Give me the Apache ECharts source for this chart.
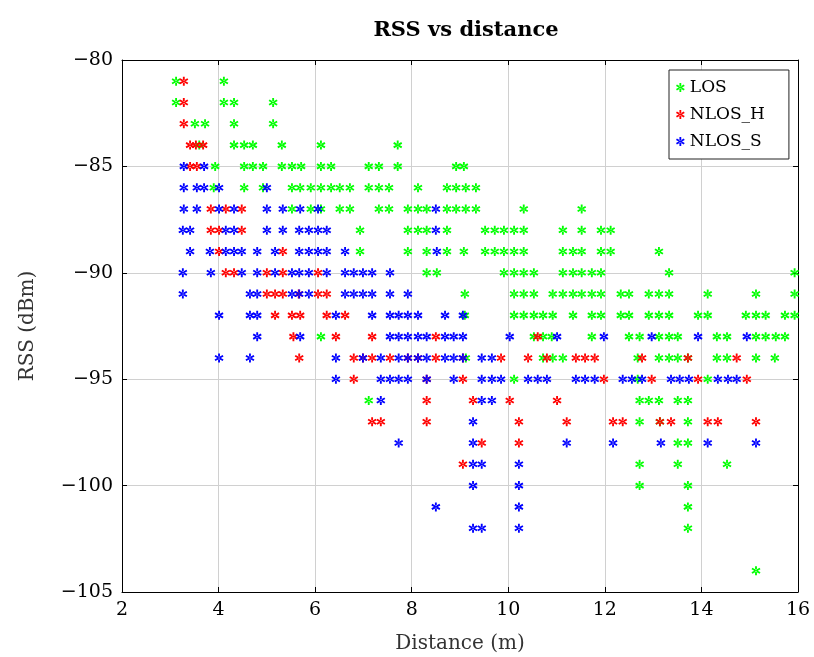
<!DOCTYPE html>
<html>
<head>
<meta charset="utf-8">
<script src="https://cdn.jsdelivr.net/npm/echarts@6/dist/echarts.min.js"></script>
<style>html,body{margin:0;padding:0;background:#fff}#chart{width:814px;height:657px}</style>
</head>
<body>
<div id="chart"></div>
<script>
// Axis ticks
const xTicks = [2, 4, 6, 8, 10, 12, 14, 16];
const yTicks = [-105, -100, -95, -90, -85, -80];

// Each row: [RSS (dBm), [distances (m)]]
const losRows = [
  [-81, [3.12, 4.11]],
  [-82, [3.12, 4.11, 4.32, 5.13]],
  [-83, [3.51, 3.72, 4.32, 5.13]],
  [-84, [3.6, 4.32, 4.53, 4.71, 5.31, 6.12, 7.71]],
  [-85, [3.93, 4.53, 4.71, 4.92, 5.31, 5.52, 5.71, 6.12, 6.33, 7.11, 7.32, 7.71, 8.92, 9.08]],
  [-86, [3.90, 4.53, 4.92, 5.52, 5.69, 5.91, 6.12, 6.33, 6.51, 6.72, 7.11, 7.32, 7.53, 8.13, 8.73, 8.92, 9.12, 9.33]],
  [-87, [5.52, 5.91, 6.12, 6.51, 6.72, 7.32, 7.53, 7.92, 8.13, 8.31, 8.73, 8.92, 9.12, 9.33, 10.32, 11.52]],
  [-88, [6.93, 7.92, 8.13, 8.31, 8.73, 9.52, 9.72, 9.91, 10.12, 10.32, 11.13, 11.52, 11.92, 12.12]],
  [-89, [6.93, 7.92, 8.31, 8.73, 9.08, 9.52, 9.72, 9.91, 10.12, 10.32, 11.13, 11.34, 11.52, 11.92, 12.12, 13.12]],
  [-90, [8.31, 8.52, 9.91, 10.12, 10.32, 10.53, 11.13, 11.34, 11.52, 11.73, 11.92, 13.33, 15.93]],
  [-91, [9.1, 10.12, 10.32, 10.53, 10.92, 11.13, 11.34, 11.52, 11.73, 11.92, 12.33, 12.5, 12.91, 13.12, 13.33, 14.13, 15.13, 15.93]],
  [-92, [9.1, 10.12, 10.32, 10.53, 10.72, 10.92, 11.34, 11.73, 11.92, 12.33, 12.5, 12.91, 13.12, 13.33, 13.93, 14.13, 14.92, 15.13, 15.33, 15.73, 15.93]],
  [-93, [6.12, 10.53, 10.72, 10.9, 11.73, 12.5, 12.72, 13.12, 13.33, 13.51, 14.32, 14.53, 15.13, 15.33, 15.54, 15.73]],
  [-94, [9.12, 10.72, 10.92, 11.13, 12.68, 13.12, 13.33, 13.51, 13.72, 14.32, 14.53, 15.13, 15.52]],
  [-95, [10.12, 12.68, 14.13]],
  [-96, [7.11, 12.72, 12.91, 13.12, 13.51, 13.72]],
  [-97, [12.72, 13.14, 13.72]],
  [-98, [13.51, 13.72]],
  [-99, [12.72, 13.51, 14.53]],
  [-100, [12.72, 13.72]],
  [-101, [13.72]],
  [-102, [13.72]],
  [-104, [15.13]]
];

const nlosHRows = [
  [-81, [3.28]],
  [-82, [3.28]],
  [-83, [3.28]],
  [-84, [3.41, 3.53, 3.68]],
  [-85, [3.41, 3.55]],
  [-87, [3.84, 4.15, 4.48]],
  [-88, [3.84, 4.01, 4.48]],
  [-89, [4.01, 5.33]],
  [-90, [4.15, 4.32, 5.00, 5.33, 6.06]],
  [-91, [5.00, 5.17, 5.33, 5.66, 6.06, 6.24]],
  [-92, [5.17, 5.52, 5.69, 6.24, 6.62]],
  [-93, [5.55, 6.43, 7.18, 8.50, 10.61]],
  [-94, [5.67, 6.80, 6.99, 7.18, 7.55, 7.92, 8.13, 8.50, 9.06, 9.85, 10.41, 10.80, 11.40, 11.59, 11.79, 12.77, 13.72, 14.73]],
  [-95, [6.80, 8.31, 9.06, 11.98, 12.97, 13.93, 14.94]],
  [-96, [8.31, 9.27, 10.03, 11.01]],
  [-97, [7.18, 7.36, 8.31, 10.22, 11.21, 12.17, 12.37, 13.14, 13.37, 14.13, 14.34, 15.13]],
  [-98, [9.45, 10.22]],
  [-99, [9.06]]
];

const nlosSRows = [
  [-85, [3.28, 3.70]],
  [-86, [3.28, 3.55, 3.70, 4.01, 5.00]],
  [-87, [3.28, 3.55, 4.01, 4.32, 5.00, 5.33, 5.69, 6.06, 8.50]],
  [-88, [3.26, 3.41, 4.15, 4.32, 5.00, 5.33, 5.67, 5.87, 6.06, 6.24, 8.50]],
  [-89, [3.41, 3.82, 4.15, 4.32, 4.48, 4.80, 5.17, 5.67, 5.87, 6.06, 6.24, 6.62, 8.52]],
  [-90, [3.26, 3.84, 4.48, 4.80, 5.17, 5.52, 5.67, 5.87, 6.24, 6.62, 6.80, 6.99, 7.18, 7.55]],
  [-91, [3.26, 4.65, 4.80, 5.52, 5.67, 5.87, 6.62, 6.80, 6.99, 7.18, 7.55, 7.92]],
  [-92, [4.01, 4.65, 4.80, 6.43, 7.18, 7.55, 7.73, 7.92, 8.13, 8.69, 9.06]],
  [-93, [4.80, 5.69, 7.55, 7.73, 7.92, 8.13, 8.31, 8.69, 8.87, 9.06, 10.03, 11.01, 11.98, 12.97, 13.93, 14.94]],
  [-94, [4.01, 4.65, 6.43, 6.99, 7.36, 7.73, 7.92, 8.13, 8.31, 8.69, 8.87, 9.06, 9.45, 9.66]],
  [-95, [6.43, 7.36, 7.55, 7.73, 7.92, 8.31, 8.87, 9.45, 9.66, 9.85, 10.41, 10.61, 10.80, 11.40, 11.59, 11.79, 12.37, 12.56, 12.77, 13.37, 13.55, 13.74, 14.34, 14.55, 14.73]],
  [-96, [7.36, 9.45, 9.66]],
  [-97, [9.27]],
  [-98, [7.73, 9.27, 11.21, 12.17, 13.16, 14.13, 15.13]],
  [-99, [9.27, 9.45, 10.22]],
  [-100, [9.27, 10.22]],
  [-101, [8.50, 10.22]],
  [-102, [9.27, 9.45, 10.22]]
];

const seriesNames = ['LOS', 'NLOS_H', 'NLOS_S'];
const seriesColors = ['#00ff00', '#ff0000', '#0000ff'];

function flatten(rows) {
  const out = [];
  rows.forEach(([y, xs]) => xs.forEach(x => out.push([x, y])));
  return out;
}

// six-spoke asterisk built from three filled bars
const ASTER = 'path://M-0.2,-1L0.2,-1L0.2,1L-0.2,1Z' +
  'M0.766,0.673L0.966,0.327L-0.766,-0.673L-0.966,-0.327Z' +
  'M0.966,-0.327L0.766,-0.673L-0.966,0.327L-0.766,0.673Z';

const FONT = 'DejaVu Serif';
const minus = v => String(v).replace('-', '\u2212');

const chart = echarts.init(document.getElementById('chart'), null, {renderer: 'canvas'});
const allRows = [losRows, nlosHRows, nlosSRows];

const axisCommon = {
  axisLine: {show: true, onZero: false, lineStyle: {color: '#000', width: 1}},
  axisTick: {show: true, inside: true, length: 5, lineStyle: {color: '#000'}},
};

chart.setOption({
  animation: false,
  backgroundColor: '#fff',
  title: {
    text: 'RSS vs distance',
    left: 461, top: 15, textAlign: 'center',
    textStyle: {fontFamily: FONT, fontWeight: 'bold', fontSize: 21, color: '#000'}
  },
  legend: {
    orient: 'vertical',
    left: 669, top: 70,
    padding: [9, 24, 9, 7],
    itemGap: 10,
    itemWidth: 9, itemHeight: 9,
    borderColor: '#222', borderWidth: 1, borderRadius: 0,
    backgroundColor: '#fff',
    textStyle: {fontFamily: FONT, fontSize: 17, color: '#000'},
    data: seriesNames
  },
  grid: {left: 122, right: 16, top: 60, bottom: 65, containLabel: false, outerBoundsMode: 'none'},
  xAxis: [
    Object.assign({
      type: 'value', min: 2, max: 16, interval: 2, position: 'bottom',
      name: 'Distance (m)', nameLocation: 'middle', nameGap: 42,
      nameTextStyle: {fontFamily: FONT, fontSize: 20, color: '#333'},
      axisLabel: {fontFamily: FONT, fontSize: 19, color: '#000', margin: 9},
      splitLine: {show: true, lineStyle: {color: '#d0d0d0', width: 1}}
    }, axisCommon),
    Object.assign({
      type: 'value', min: 2, max: 16, interval: 2, position: 'top',
      axisLabel: {show: false}, splitLine: {show: false}
    }, axisCommon)
  ],
  yAxis: [
    Object.assign({
      type: 'value', min: -105, max: -80, interval: 5, position: 'left',
      name: 'RSS (dBm)', nameLocation: 'middle', nameGap: 84,
      nameTextStyle: {fontFamily: FONT, fontSize: 20, color: '#333'},
      axisLabel: {fontFamily: FONT, fontSize: 19, color: '#000', margin: 9, formatter: minus},
      splitLine: {show: true, lineStyle: {color: '#d0d0d0', width: 1}}
    }, axisCommon),
    Object.assign({
      type: 'value', min: -105, max: -80, interval: 5, position: 'right',
      axisLabel: {show: false}, splitLine: {show: false}
    }, axisCommon)
  ],
  series: seriesNames.map((name, i) => ({
    name: name,
    type: 'scatter',
    symbol: ASTER,
    symbolSize: 9,
    itemStyle: {color: seriesColors[i], opacity: 1},
    emphasis: {disabled: true},
    data: flatten(allRows[i]),
    z: 2 + i
  }))
});
</script>
</body>
</html>
